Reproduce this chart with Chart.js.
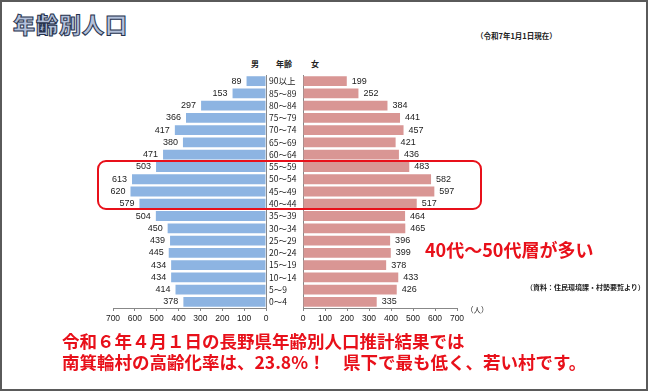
<!DOCTYPE html>
<html lang="ja">
<head>
<meta charset="utf-8">
<title>年齢別人口</title>
<script src="https://cdn.jsdelivr.net/npm/chart.js@4/dist/chart.umd.min.js"></script>
<style>
	html, body { margin: 0; padding: 0; background: #fff; }
	body { width: 650px; height: 392px; position: relative; overflow: hidden; font-family: "Noto Sans CJK JP", sans-serif; }
	.frame { position: absolute; left: 0; top: 0; width: 648px; height: 391px; box-sizing: border-box; border: 2px solid #5a5a5a; }
	.abs { position: absolute; white-space: nowrap; line-height: 1; }
	.title { left: 13px; top: 12px; font-size: 22px; font-weight: 900; color: #b3c1db; -webkit-text-stroke: 1px #26324d; letter-spacing: 1px; }
	.note { font-size: 7.5px; font-weight: bold; color: #222; }
	.head { font-size: 8px; font-weight: bold; color: #222; }
	.box { position: absolute; left: 97px; top: 160px; width: 385px; height: 50px; box-sizing: border-box; border: 2px solid #e8101a; border-radius: 9px; }
	.red { color: #e8101a; font-weight: bold; }
	canvas { position: absolute; }
</style>
</head>
<body>
<div class="frame"></div>
<div class="abs title">年齢別人口</div>
<div class="abs note" style="left:476px; top:32px;">（令和7年1月1日現在）</div>
<div class="abs head" style="left:251px; top:60px;">男</div>
<div class="abs head" style="left:276px; top:60px;">年齢</div>
<div class="abs head" style="left:311px; top:60px;">女</div>
<canvas id="maleChart" width="200" height="265" style="left:80px; top:65px;"></canvas>
<canvas id="femaleChart" width="200" height="265" style="left:269px; top:65px;"></canvas>
<div class="box"></div>
<div class="abs red" style="left:425px; top:240px; font-size:18px;">40代～50代層が多い</div>
<div class="abs note" style="left:526px; top:284px; font-size:7px;">（資料：住民環境課・村勢要覧より）</div>
<div class="abs note" style="left:466px; top:306px; font-weight:normal;">（人）</div>
<div class="abs red" style="left:62px; top:330px; font-size:17.5px; line-height:21px;">令和６年４月１日の長野県年齢別人口推計結果では<br>南箕輪村の高齢化率は、23.8%！　県下で最も低く、若い村です。</div>
<script>
	// age groups, top to bottom
	const ages = ['90以上', '85〜89', '80〜84', '75〜79', '70〜74', '65〜69', '60〜64', '55〜59', '50〜54', '45〜49', '40〜44', '35〜39', '30〜34', '25〜29', '20〜24', '15〜19', '10〜14', '5〜9', '0〜4'];
	const male = [89, 153, 297, 366, 417, 380, 471, 503, 613, 620, 579, 504, 450, 439, 445, 434, 434, 414, 378];
	const female = [199, 252, 384, 441, 457, 421, 436, 483, 582, 597, 517, 464, 465, 396, 399, 378, 433, 426, 335];
	const axisMax = 700;
	const axisStep = 100;

	const numFont = { family: '"Liberation Sans", Arial, sans-serif', size: 8.5 };

	// draws the number next to the end of each bar
	const valueLabels = {
		id: 'valueLabels',
		afterDatasetsDraw(chart, args, opts) {
			const ctx = chart.ctx;
			const meta = chart.getDatasetMeta(0);
			const values = chart.data.datasets[0].data;
			ctx.save();
			ctx.font = '9px "Liberation Sans", Arial, sans-serif';
			ctx.fillStyle = '#222';
			ctx.textBaseline = 'middle';
			ctx.textAlign = opts.side === 'left' ? 'right' : 'left';
			meta.data.forEach(function(bar, i) {
				const x = opts.side === 'left' ? bar.x - 5 : bar.x + 5;
				ctx.fillText(values[i], x, bar.y);
			});
			ctx.restore();
		}
	};

	function xScale(reverse) {
		return {
			reverse: reverse,
			min: 0,
			max: axisMax,
			ticks: { stepSize: axisStep, font: numFont, color: '#222', padding: 3, maxRotation: 0 },
			grid: { drawOnChartArea: false, tickLength: 3, color: '#888' },
			border: { color: '#888' },
			afterFit: function(s) { s.height = 20; }
		};
	}

	function makeChart(id, values, color, side) {
		const left = side === 'left';
		return new Chart(document.getElementById(id), {
			type: 'bar',
			data: {
				labels: ages,
				datasets: [{
					data: values,
					backgroundColor: color,
					barPercentage: 0.8,
					categoryPercentage: 1.0
				}]
			},
			options: {
				indexAxis: 'y',
				responsive: false,
				animation: false,
				layout: { padding: left ? { left: 33, right: 14, top: 10, bottom: 2 } : { left: 0, right: 12, top: 10, bottom: 2 } },
				scales: {
					x: xScale(left),
					y: {
						position: left ? 'right' : 'left',
						grid: { display: false },
						border: { display: true, color: '#888' },
						ticks: {
							display: !left,
							autoSkip: false,
							crossAlign: 'far',
							padding: 0,
							color: '#222',
							font: { family: '"Noto Sans CJK JP", sans-serif', size: 8.5 }
						},
						afterFit: function(s) { s.width = left ? 0 : 34; }
					}
				},
				plugins: {
					legend: { display: false },
					tooltip: { enabled: false },
					valueLabels: { side: side }
				}
			},
			plugins: [valueLabels]
		});
	}

	makeChart('maleChart', male, '#8db4e2', 'left');
	makeChart('femaleChart', female, '#d99694', 'right');
</script>
</body>
</html>
